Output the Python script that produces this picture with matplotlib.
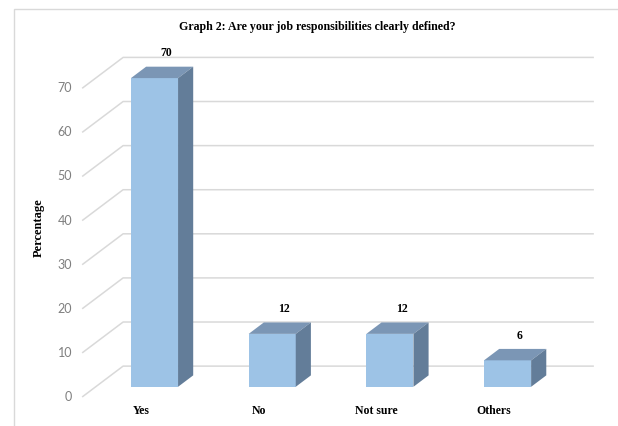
import matplotlib
matplotlib.use("Agg")
import matplotlib.pyplot as plt
from matplotlib.patches import Polygon, Rectangle

categories = ["Yes", "No", "Not sure", "Others"]
percentages = [70, 12, 12, 6]
y_ticks = [0, 10, 20, 30, 40, 50, 60, 70]

title = "Graph 2: Are your job responsibilities clearly defined?"
y_label = "Percentage"

# colours of the 3-D bar faces
FRONT = "#9dc3e6"
TOP = "#7b96b5"
SIDE = "#637d99"
GRID = "#d9d9d9"

# fake perspective: how far the back wall sits from the front plane
DEPTH_X = 0.348
DEPTH_Y = 7.0
BAR_START = 0.33   # bar front face, as a fraction of the full depth
BAR_DEPTH = 0.37
BAR_W = 0.40

fig = plt.figure(figsize=(6.18, 4.26), dpi=100)
ax = fig.add_axes([0, 0, 1, 1])
ax.set_xlim(-1.198, 4.053)
ax.set_ylim(-6.58, 90.02)
ax.axis("off")

# chart border
fig.patches.append(Rectangle((14 / 618, -0.1), 1.2, 1 - 9 / 426 + 0.1,
                             transform=fig.transFigure, fill=False,
                             edgecolor="#d9d9d9", linewidth=1.0))

left, right = -0.5, len(categories) - 0.5

# gridlines run up the left wall and along the back wall
for v in y_ticks:
    ax.plot([left, left + DEPTH_X, right + DEPTH_X],
            [v, v + DEPTH_Y, v + DEPTH_Y],
            color=GRID, linewidth=1.1, zorder=1, solid_capstyle="butt")
    ax.text(left - 0.086, v, str(v), ha="right", va="center",
            fontsize=9, family="Lato", color="#7f7f7f")

fx = BAR_START * DEPTH_X
fy = BAR_START * DEPTH_Y
sx = BAR_DEPTH * DEPTH_X
sy = BAR_DEPTH * DEPTH_Y

xs = [i + fx for i in range(len(categories))]
ax.bar(xs, percentages, width=BAR_W, bottom=fy, color=FRONT,
       edgecolor="none", zorder=3)

for x, v in zip(xs, percentages):
    x0, x1 = x - BAR_W / 2, x + BAR_W / 2
    top = v + fy
    ax.add_patch(Polygon([(x0, top), (x1, top), (x1 + sx, top + sy),
                          (x0 + sx, top + sy)], closed=True,
                         facecolor=TOP, edgecolor="none", zorder=3))
    ax.add_patch(Polygon([(x1, fy), (x1 + sx, fy + sy), (x1 + sx, top + sy),
                          (x1, top)], closed=True,
                         facecolor=SIDE, edgecolor="none", zorder=3))
    ax.text(x + 0.1, top + sy + 3.0, str(v), ha="center", va="center",
            fontsize=8.5, family="Liberation Serif", fontweight="bold")

for i, name in enumerate(categories):
    ax.text(i, -3.2, name, ha="center", va="center", fontsize=8.5,
            family="Liberation Serif", fontweight="bold")

fig.text(317 / 618, 1 - 27 / 426, title, ha="center", va="center",
         fontsize=8.6, family="Liberation Serif", fontweight="bold")
fig.text(39 / 618, 1 - 228 / 426, y_label, ha="center", va="center",
         rotation=90, fontsize=9, family="Liberation Serif", fontweight="bold")

fig.savefig("out.png", dpi=100)
